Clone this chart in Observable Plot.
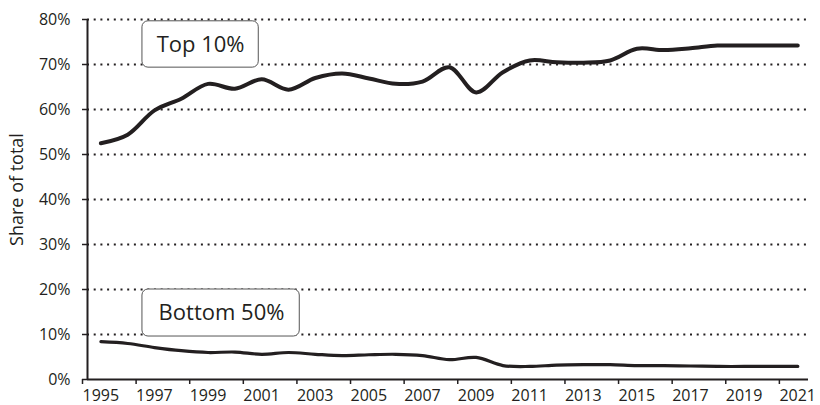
<!DOCTYPE html>
<html>
<head>
<meta charset="utf-8">
<script src="https://cdn.jsdelivr.net/npm/d3@7"></script>
<script src="https://cdn.jsdelivr.net/npm/@observablehq/plot@0.6"></script>
<style>
  html, body { margin: 0; padding: 0; background: #fff; }
  #chart svg { display: block; }
</style>
</head>
<body>
<div id="chart"></div>
<script>
// Years and series values (share of total, %)
const years = [1995,1996,1997,1998,1999,2000,2001,2002,2003,2004,2005,2006,2007,2008,2009,2010,2011,2012,2013,2014,2015,2016,2017,2018,2019,2020,2021];
const top10 = [52.5,54.4,59.8,62.4,65.7,64.6,66.7,64.4,67.0,68.0,66.9,65.7,66.2,69.4,63.8,68.3,70.9,70.5,70.4,70.9,73.5,73.2,73.6,74.2,74.2,74.2,74.2];
const bottom50 = [8.4,8.0,7.1,6.4,6.0,6.1,5.6,6.0,5.6,5.3,5.5,5.6,5.3,4.4,4.9,3.1,2.9,3.2,3.3,3.3,3.1,3.1,3.0,2.9,2.9,2.9,2.9];

// Tick values
const xTicks = [1995,1997,1999,2001,2003,2005,2007,2009,2011,2013,2015,2017,2019,2021];
const yTicks = [0,10,20,30,40,50,60,70,80];
const yLabel = "Share of total";

// Annotation boxes (in data units)
const annoLabels = ["Top 10%", "Bottom 50%"];
const annoX1 = [1997.05, 1997.05];
const annoX2 = [2001.39, 2002.92];
const annoY1 = [69.3, 9.55];
const annoY2 = [79.6, 20.0];
const annoTextX = [1999.22, 2000.0];
const annoTextY = [74.4, 14.8];

const topData = years.map((y, i) => ({year: y + 0.5, value: top10[i]}));
const botData = years.map((y, i) => ({year: y + 0.5, value: bottom50[i]}));
const annos = annoLabels.map((t, i) => ({label: t, x1: annoX1[i], x2: annoX2[i], y1: annoY1[i], y2: annoY2[i], tx: annoTextX[i], ty: annoTextY[i]}));

const ink = "#231f20";

const chart = Plot.plot({
  width: 820,
  height: 405,
  marginLeft: 87,
  marginRight: 12,
  marginTop: 19,
  marginBottom: 26,
  style: {fontFamily: "'Open Sans', sans-serif", fontSize: "16px", color: ink, background: "#fff"},
  x: {domain: [1995, 2021.9], axis: null},
  y: {domain: [0, 80], axis: null},
  marks: [
    Plot.ruleY(yTicks.filter(d => d > 0), {stroke: ink, strokeWidth: 2, strokeDasharray: "2,4.7"}),
    Plot.ruleY([0], {stroke: ink, strokeWidth: 2}),
    Plot.ruleX([1995], {stroke: ink, strokeWidth: 2}),
    Plot.axisY({ticks: yTicks, tickFormat: d => d + "%", tickSize: 5, tickPadding: 12, stroke: ink, fill: ink, fontSize: 16, label: null, strokeWidth: 1.5}),
    Plot.axisX({ticks: xTicks, tickFormat: d => String(d), tickSize: 5, tickPadding: 5, textAnchor: "start", dx: -5, stroke: ink, fill: ink, fontSize: 16, label: null, strokeWidth: 1.5}),
    Plot.text([yLabel], {frameAnchor: "left", textAnchor: "middle", lineAnchor: "middle", rotate: -90, dx: -70, dy: -10, fontSize: 18, fill: ink}),
    Plot.line(topData, {x: "year", y: "value", stroke: ink, strokeWidth: 4, curve: "catmull-rom"}),
    Plot.line(botData, {x: "year", y: "value", stroke: ink, strokeWidth: 3.2, curve: "catmull-rom"}),
    Plot.rect(annos, {x1: "x1", x2: "x2", y1: "y1", y2: "y2", fill: "#fff", stroke: "#555", strokeWidth: 1, rx: 6}),
    Plot.text(annos, {x: "tx", y: "ty", text: "label", fontSize: 22, fill: ink})
  ]
});
document.getElementById("chart").appendChild(chart);
</script>
</body>
</html>
